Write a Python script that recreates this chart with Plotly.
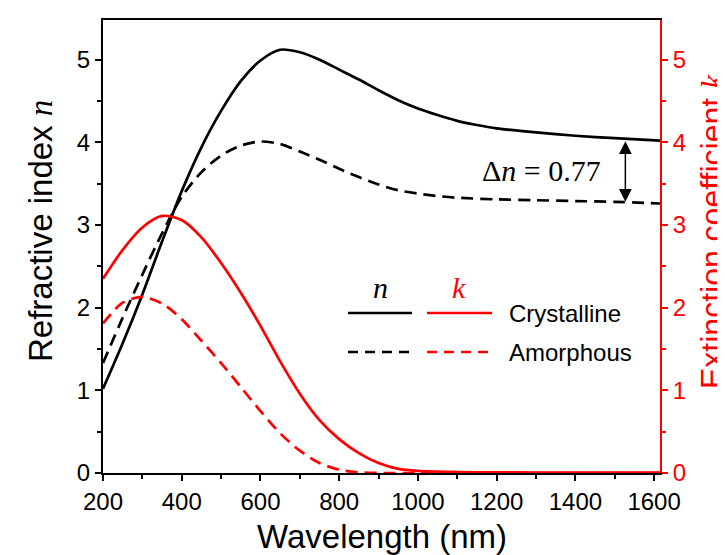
import plotly.graph_objects as go

# ---- data ----
wl_n_cry = [200, 250, 300, 350, 400, 450, 500, 550, 600, 650, 700, 750, 800, 850, 900, 950,
            1000, 1050, 1100, 1150, 1200, 1300, 1400, 1500, 1615]
n_cry = [1.02, 1.57, 2.16, 2.80, 3.41, 3.94, 4.38, 4.74, 4.99, 5.12, 5.09, 5.00, 4.88, 4.76,
         4.63, 4.51, 4.41, 4.33, 4.26, 4.21, 4.17, 4.12, 4.08, 4.05, 4.02]

wl_n_am = [200, 250, 300, 350, 400, 450, 500, 550, 600, 650, 700, 750, 800, 850, 900, 950,
           1000, 1050, 1100, 1200, 1300, 1400, 1500, 1615]
n_am = [1.33, 1.88, 2.40, 2.90, 3.34, 3.64, 3.84, 3.96, 4.01, 3.98, 3.89, 3.79, 3.68, 3.58,
        3.49, 3.42, 3.38, 3.35, 3.33, 3.31, 3.30, 3.29, 3.28, 3.26]

wl_k_cry = [200, 250, 300, 350, 400, 450, 500, 550, 600, 650, 700, 750, 800, 850, 900, 950,
            1000, 1100, 1200, 1400, 1615]
k_cry = [2.35, 2.70, 2.97, 3.11, 3.06, 2.85, 2.54, 2.18, 1.78, 1.35, 0.96, 0.64, 0.41, 0.24,
         0.12, 0.05, 0.025, 0.012, 0.008, 0.005, 0.005]

wl_k_am = [200, 250, 300, 350, 400, 450, 500, 550, 600, 650, 700, 750, 800, 850, 900, 1000,
           1200, 1400, 1615]
k_am = [1.81, 2.06, 2.13, 2.05, 1.86, 1.60, 1.33, 1.04, 0.75, 0.48, 0.27, 0.12, 0.04, 0.008,
        0.0, 0.0, 0.0, 0.0, 0.0]

x_ticks = [200, 400, 600, 800, 1000, 1200, 1400, 1600]
y_ticks = [0, 1, 2, 3, 4, 5]
delta_n_label = "Δ<i>n</i> = 0.77"
arrow_top, arrow_bottom, arrow_wl = 4.03, 3.28, 1527

SANS = "Liberation Sans, Arial, sans-serif"
SERIF = "Liberation Serif, Times New Roman, serif"
RED = "#ff0000"
DASH = "12px,7px"

# the page body has an 8px default margin, so the figure is sized to fit the window
FIG_W, FIG_H = 717, 547

fig = go.Figure()
fig.add_trace(go.Scatter(x=wl_n_cry, y=n_cry, mode="lines",
                         line=dict(color="black", width=2.7, shape="spline", smoothing=0.8)))
fig.add_trace(go.Scatter(x=wl_n_am, y=n_am, mode="lines",
                         line=dict(color="black", width=2.7, dash=DASH, shape="spline", smoothing=0.8)))
fig.add_trace(go.Scatter(x=wl_k_cry, y=k_cry, mode="lines", yaxis="y2",
                         line=dict(color=RED, width=2.7, shape="spline", smoothing=0.8)))
fig.add_trace(go.Scatter(x=wl_k_am, y=k_am, mode="lines", yaxis="y2",
                         line=dict(color=RED, width=2.7, dash=DASH, shape="spline", smoothing=0.8)))

fig.update_layout(
    width=FIG_W, height=FIG_H,
    margin=dict(l=95, r=65, t=12, b=82, autoexpand=False),
    plot_bgcolor="white", paper_bgcolor="white",
    showlegend=False,
    font=dict(family=SANS, color="black"),
    xaxis=dict(
        range=[200, 1615], tickvals=x_ticks, ticks="outside", ticklen=6, tickwidth=1.5,
        tickcolor="black", showline=True, linewidth=2, linecolor="black", mirror=True,
        showgrid=False, zeroline=False, tickfont=dict(size=24, family=SANS), automargin=False,
        minor=dict(dtick=100, tick0=200, ticks="outside", ticklen=4, tickwidth=1.5, tickcolor="black"),
    ),
    yaxis=dict(
        range=[0, 5.48], tickvals=y_ticks, ticks="outside", ticklen=6, tickwidth=1.5,
        tickcolor="black", showline=True, linewidth=2, linecolor="black", automargin=False,
        showgrid=False, zeroline=False, tickfont=dict(size=24, family=SANS),
        minor=dict(dtick=0.5, tick0=0, ticks="outside", ticklen=4, tickwidth=1.5, tickcolor="black"),
    ),
    yaxis2=dict(
        overlaying="y", side="right", anchor="x", automargin=False,
        range=[0, 5.48], tickvals=y_ticks, ticks="outside", ticklen=6, tickwidth=1.5,
        tickcolor=RED, showline=True, linewidth=2, linecolor=RED,
        showgrid=False, zeroline=False, tickfont=dict(size=24, family=SANS, color=RED),
        minor=dict(dtick=0.5, tick0=0, ticks="outside", ticklen=4, tickwidth=1.5, tickcolor=RED),
    ),
)


# helpers: page pixel -> paper fraction (plot area spans x 103..660, y 20..473 on the page)
def px_x(p):
    return (p - 103) / 557.0


def px_y(p):
    return (473 - p) / 453.0


# axis titles
fig.add_annotation(xref="paper", yref="paper", x=px_x(382), y=px_y(536), text="Wavelength (nm)",
                   showarrow=False, xanchor="center", yanchor="middle",
                   font=dict(family=SANS, size=33, color="black"))
fig.add_annotation(xref="paper", yref="paper", x=px_x(40), y=px_y(231),
                   text=f"Refractive index <span style='font-family:{SERIF}'><i>n</i></span>",
                   textangle=-90, showarrow=False, xanchor="center", yanchor="middle",
                   font=dict(family=SANS, size=33, color="black"))
fig.add_annotation(xref="paper", yref="paper", x=px_x(712), y=px_y(232),
                   text=f"Extinction coefficient <span style='font-family:{SERIF}'><i>k</i></span>",
                   textangle=-90, showarrow=False, xanchor="center", yanchor="middle",
                   font=dict(family=SANS, size=32, color=RED))

# Δn annotation and double arrow
fig.add_annotation(x=arrow_wl, y=arrow_bottom, ax=arrow_wl, ay=arrow_top, axref="x", ayref="y",
                   xref="x", yref="y", text="", showarrow=True, arrowhead=2, startarrowhead=2,
                   arrowside="end+start", arrowwidth=1.5, arrowsize=1.7, startarrowsize=1.7,
                   arrowcolor="black", standoff=0, startstandoff=0)
fig.add_annotation(x=1313, y=3.66, xref="x", yref="y", text=delta_n_label, showarrow=False,
                   xanchor="center", yanchor="middle",
                   font=dict(family=SERIF, size=30, color="black"))

# custom legend
for (x0, x1, yy, col, dsh) in [(348, 412, 313, "black", None), (427, 492, 313, RED, None),
                               (348, 412, 352, "black", "10px,7px"), (427, 492, 352, RED, "10px,7px")]:
    fig.add_shape(type="line", xref="paper", yref="paper", x0=px_x(x0), x1=px_x(x1),
                  y0=px_y(yy), y1=px_y(yy), line=dict(color=col, width=2.7, dash=dsh))
fig.add_annotation(xref="paper", yref="paper", x=px_x(380), y=px_y(287), text="<i>n</i>",
                   showarrow=False, xanchor="center", yanchor="middle",
                   font=dict(family=SERIF, size=30, color="black"))
fig.add_annotation(xref="paper", yref="paper", x=px_x(459), y=px_y(287), text="<i>k</i>",
                   showarrow=False, xanchor="center", yanchor="middle",
                   font=dict(family=SERIF, size=30, color=RED))
fig.add_annotation(xref="paper", yref="paper", x=px_x(507), y=px_y(313), text="Crystalline",
                   showarrow=False, xanchor="left", yanchor="middle",
                   font=dict(family=SANS, size=24, color="black"))
fig.add_annotation(xref="paper", yref="paper", x=px_x(507), y=px_y(352), text="Amorphous",
                   showarrow=False, xanchor="left", yanchor="middle",
                   font=dict(family=SANS, size=24, color="black"))

fig.write_html("out.html")
